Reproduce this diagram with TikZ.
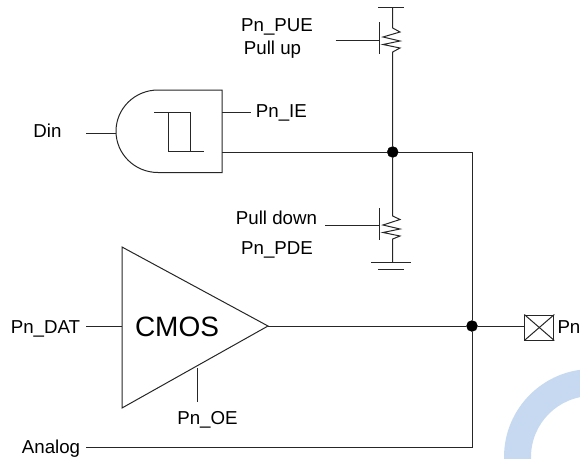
\documentclass[tikz,border=0pt]{standalone}
\usepackage{fontspec}
\setmainfont{Liberation Sans}
\definecolor{ringblue}{HTML}{C6D9F0}
\tikzset{
  wire/.style={line width=1pt,black!85},
  joint/.style={draw,circle,fill=black,inner sep=0pt,minimum size=11pt},
  lbl/.style={inner sep=0pt,anchor=base,font=\fontsize{18.7}{21}\selectfont},
}
\begin{document}
\begin{tikzpicture}[x=1pt,y=-1pt]
\useasboundingbox (0,0) rectangle (580,458);
% ring in the corner
\begin{scope}
\clip (0,0) rectangle (580,458);
\fill[ringblue,even odd rule] (592,457) circle (88) (592,457) circle (61);
\end{scope}
% junctions and pad
\node[joint] (J1) at (392.7,152) {};
\node[joint] (J2) at (472,326) {};
\node[draw,wire,minimum width=29pt,minimum height=25pt,inner sep=0pt] (Pad) at (539.3,327.5) {};
\draw[wire] (Pad.north west) -- (Pad.south east);
\draw[wire] (Pad.south west) -- (Pad.north east);
\node[lbl,anchor=base west] (Pn) at (557.3,333.3) {Pn};
% input gate
\coordinate (Gtop) at (222,90);
\coordinate (Gbot) at (222,172.5);
\coordinate (Gin) at (116,133);
\coordinate (IEout) at (222,112);
\coordinate (Dout) at (222,152);
\draw[wire] (Gtop) -- (158,90) arc[start angle=270,end angle=90,x radius=42,y radius=41.25] -- (Gbot) -- cycle;
\draw[wire] (154,112) -- (190,112) -- (190,151);
\draw[wire] (168,112) -- (168,151) -- (204,151);
\node[lbl] (Din) at (47.5,137.7) {Din};
\coordinate (DinEnd) at (86,133);
\draw[wire] (DinEnd) -- (Gin);
\node[lbl,anchor=base west] (IE) at (255.7,117.7) {Pn\_IE};
\coordinate (IEend) at (250.7,112);
\draw[wire] (IEout) -- (IEend);
% pull up
\coordinate (VddL) at (378,7.5);
\coordinate (VddR) at (404,7.5);
\coordinate (Vdd) at (392.7,7.5);
\draw[wire] (VddL) -- (VddR);
\draw[wire] (Vdd) -- (392.7,28) -- (400,32) -- (383,37) -- (400,41) -- (383,44.5) -- (400,48) -- (392.7,52) -- (J1);
\draw[wire] (379,22) -- (379,54);
\node[lbl] (PUE) at (277,31) {Pn\_PUE};
\node[lbl] (PU) at (272.5,54) {Pull up};
\coordinate (PUg) at (335.7,40);
\draw[wire] (PUg) -- (379,40);
% pull down
\draw[wire] (J1) -- (392.7,216) -- (400,219.5) -- (383,225) -- (400,229) -- (383,232.5) -- (400,236) -- (392.7,239) -- (392.7,262) coordinate (Gnd);
\draw[wire] (371,262) -- (411,262);
\draw[wire] (378,269) -- (404,269);
\draw[wire] (379,208) -- (379,240);
\node[lbl] (PD) at (276.5,224) {Pull down};
\node[lbl] (PDE) at (277,254.3) {Pn\_PDE};
\coordinate (PDg) at (325,225.7);
\draw[wire] (PDg) -- (379,225.7);
% driver
\coordinate (Ta) at (122,247);
\coordinate (Tb) at (122,408);
\coordinate (Tip) at (268,326);
\draw[wire] (Ta) -- (Tip) -- (Tb) -- cycle;
\node[lbl,font=\fontsize{28}{30}\selectfont] (Cmos) at (177,336.7) {CMOS};
\node[lbl] (DAT) at (45.5,333.3) {Pn\_DAT};
\coordinate (DATend) at (86,326);
\draw[wire] (DATend) -- (122,326);
\coordinate (PadIn) at (Pad.west |- J2);
\draw[wire] (Tip) -- (J2) -- (PadIn);
\node[lbl] (OE) at (207.5,424.3) {Pn\_OE};
\coordinate (OEa) at (197,368);
\coordinate (OEb) at (197,402);
\draw[wire] (OEa) -- (OEb);
% analog rail
\node[lbl] (Ana) at (51,453.3) {Analog};
\coordinate (AnaEnd) at (86,447);
\draw[wire] (Dout) -- (J1) -- (472,152) -- (J2) -- (472,447) -- (AnaEnd);
\end{tikzpicture}
\end{document}
